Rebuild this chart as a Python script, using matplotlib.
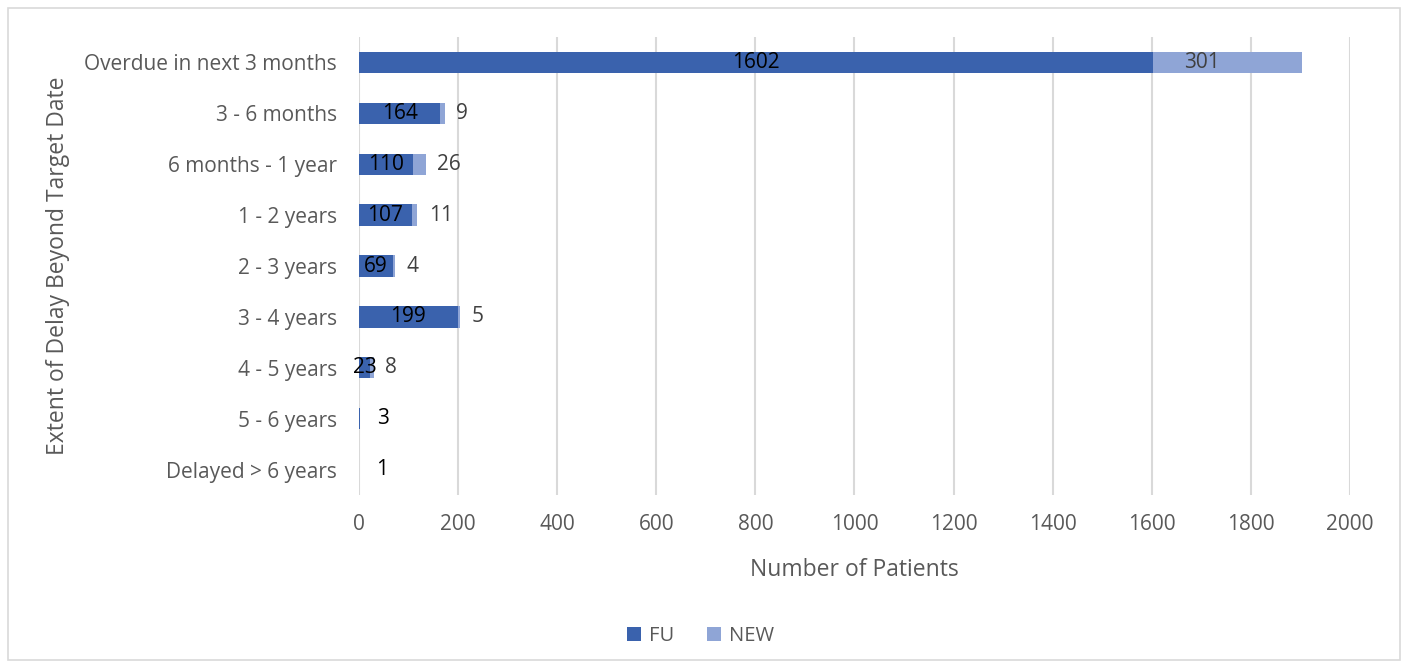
import matplotlib.pyplot as plt
from matplotlib.patches import Rectangle

plt.rcParams['font.family'] = ['Open Sans', 'DejaVu Sans']

categories = ["Overdue in next 3 months", "3 - 6 months", "6 months - 1 year",
              "1 - 2 years", "2 - 3 years", "3 - 4 years", "4 - 5 years",
              "5 - 6 years", "Delayed > 6 years"]
fu = [1602, 164, 110, 107, 69, 199, 23, 3, 1]
new = [301, 9, 26, 11, 4, 5, 8, 0, 0]

FU_COLOR = "#3A62AD"
NEW_COLOR = "#8FA5D6"
TEXT = "#595959"


def main():
    fig = plt.figure(figsize=(14.1, 6.66), dpi=100)
    fig.patches.append(Rectangle((0.006, 0.009), 0.987, 0.979, transform=fig.transFigure,
                                 fill=False, edgecolor="#D9D9D9", linewidth=1.2))
    ax = fig.add_axes([0.2546, 0.2568, 0.7028, 0.6876])

    ypos = list(range(len(categories)))
    ax.barh(ypos, fu, height=0.42, color=FU_COLOR, label="FU", zorder=3)
    ax.barh(ypos, new, left=fu, height=0.42, color=NEW_COLOR, label="NEW", zorder=3)

    for y, f, n in zip(ypos, fu, new):
        if f >= 10:
            ax.text(f / 2, y, str(f), ha="center", va="center", fontsize=15,
                    color="black", zorder=4)
        else:
            ax.annotate(str(f), (f, y), xytext=(12, 0), textcoords="offset points",
                        ha="left", va="center", fontsize=15, color="black")
        if n > 0:
            if n > 100:
                ax.text(f + n * 0.33, y, str(n), ha="center", va="center",
                        fontsize=15, color="#404040", zorder=4)
            else:
                ax.annotate(str(n), (f + n, y), xytext=(8, 0), textcoords="offset points",
                            ha="left", va="center", fontsize=15, color="#404040")

    ax.set_xlim(0, 2000)
    ax.set_ylim(len(categories) - 0.5, -0.5)
    ax.set_xticks(range(0, 2001, 200))
    ax.set_yticks(ypos)
    ax.set_yticklabels(categories)
    ax.grid(axis="x", color="#D9D9D9", linewidth=1.5, zorder=0)
    for s in ax.spines.values():
        s.set_visible(False)
    ax.tick_params(axis="both", length=0, labelsize=15, colors=TEXT)
    ax.tick_params(axis="x", pad=14)
    ax.tick_params(axis="y", pad=16)

    ax.set_xlabel("Number of Patients", fontsize=16.5, color=TEXT, labelpad=16)
    ax.set_ylabel("Extent of Delay Beyond Target Date", fontsize=16.5, color=TEXT, labelpad=10)

    fig.legend(loc="center", bbox_to_anchor=(0.497, 0.045), ncol=2, frameon=False,
               fontsize=14.5, labelcolor=TEXT, handlelength=0.7, handleheight=0.7,
               handletextpad=0.4, columnspacing=1.6)

    fig.savefig("out.png", dpi=100)


if __name__ == "__main__":
    main()
